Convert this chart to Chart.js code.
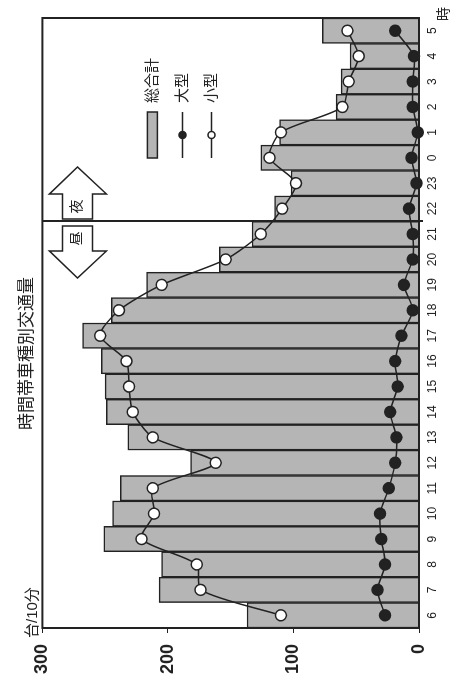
<!DOCTYPE html>
<html>
<head>
<meta charset="utf-8">
<title>時間帯車種別交通量</title>
<script src="https://cdn.jsdelivr.net/npm/chart.js@4.4.1/dist/chart.umd.min.js"></script>
<style>
    html, body { margin: 0; padding: 0; background: #fff; overflow: hidden; }
    /* el gráfico original está girado 90° a la izquierda */
    #wrap {
        position: absolute; left: 0; top: 0;
        width: 689px; height: 452px;
        transform-origin: 0 0;
        transform: translate(0, 689px) rotate(-90deg);
    }
</style>
</head>
<body>
<div id="wrap"><canvas id="chart" width="689" height="452"></canvas></div>
<script>
// Datos
var hours = ['6', '7', '8', '9', '10', '11', '12', '13', '14', '15', '16', '17',
             '18', '19', '20', '21', '22', '23', '0', '1', '2', '3', '4', '5'];
var totalCount = [137, 207, 205, 251, 244, 238, 182, 232, 249, 250, 253, 268,
                  245, 217, 159, 133, 115, 102, 126, 111, 66, 62, 55, 77];
var largeCount = [27, 33, 27, 30, 31, 24, 19, 18, 23, 17, 19, 14,
                  5, 12, 5, 5, 8, 2, 6, 1, 5, 5, 4, 19];
var smallCount = [110, 174, 177, 221, 211, 212, 162, 212, 228, 231, 233, 254,
                  239, 205, 154, 126, 109, 98, 119, 110, 61, 56, 48, 57];
var seriesNames = ['総合計', '大型', '小型'];
var valueTicks = [0, 100, 200, 300];
var chartTitle = '時間帯車種別交通量';
var valueUnit = '台/10分';
var hourUnit = '時';
var dayLabel = '昼';
var nightLabel = '夜';
var nightStart = '22';

var FONT = "'Liberation Sans', 'Noto Sans CJK JP', sans-serif";
var INK = '#222';
var BAR_FILL = '#b5b5b5';

// Flecha con texto (dir = 1 hacia la derecha, -1 hacia la izquierda)
function drawArrow(ctx, base, dir, top, label) {
    var shaftEnd = base + dir * 25;
    var tip = base + dir * 52;
    var s1 = top + 20, s2 = top + 50, h1 = top + 7, h2 = top + 64, mid = top + 35;
    ctx.beginPath();
    ctx.moveTo(base, s1);
    ctx.lineTo(shaftEnd, s1);
    ctx.lineTo(shaftEnd, h1);
    ctx.lineTo(tip, mid);
    ctx.lineTo(shaftEnd, h2);
    ctx.lineTo(shaftEnd, s2);
    ctx.lineTo(base, s2);
    ctx.closePath();
    ctx.fillStyle = '#fff';
    ctx.fill();
    ctx.stroke();
    ctx.fillStyle = INK;
    ctx.font = '14px ' + FONT;
    ctx.textAlign = 'center';
    ctx.textBaseline = 'middle';
    ctx.fillText(label, (base + shaftEnd) / 2, mid);
}

var decor = {
    id: 'decor',
    afterDraw: function (chart) {
        var ctx = chart.ctx;
        var a = chart.chartArea;
        var x = chart.scales.x;
        ctx.save();
        ctx.strokeStyle = INK;

        // marco
        ctx.lineWidth = 2;
        ctx.strokeRect(a.left, a.top, a.right - a.left, a.bottom - a.top);

        // separación día / noche
        var i = hours.indexOf(nightStart);
        var dx = Math.round((x.getPixelForValue(i - 1) + x.getPixelForValue(i)) / 2);
        ctx.beginPath();
        ctx.moveTo(dx, a.top);
        ctx.lineTo(dx, a.bottom + 4);
        ctx.stroke();

        ctx.lineWidth = 1.5;
        drawArrow(ctx, dx + 2, 1, a.top, nightLabel);
        drawArrow(ctx, dx - 5, -1, a.top, dayLabel);

        // leyenda
        var lx0 = a.right - 140, lx1 = a.right - 94, tx = a.right - 85;
        var rows = [a.top + 110, a.top + 140, a.top + 169];
        ctx.fillStyle = BAR_FILL;
        ctx.fillRect(lx0, rows[0] - 5, lx1 - lx0, 10);
        ctx.strokeRect(lx0, rows[0] - 5, lx1 - lx0, 10);
        [1, 2].forEach(function (k) {
            ctx.beginPath();
            ctx.moveTo(lx0, rows[k]);
            ctx.lineTo(lx1, rows[k]);
            ctx.stroke();
            ctx.beginPath();
            ctx.arc((lx0 + lx1) / 2, rows[k], 3.5, 0, Math.PI * 2);
            ctx.fillStyle = k === 1 ? INK : '#fff';
            ctx.fill();
            ctx.stroke();
        });
        ctx.fillStyle = INK;
        ctx.font = '15px ' + FONT;
        ctx.textAlign = 'left';
        ctx.textBaseline = 'middle';
        seriesNames.forEach(function (n, k) {
            ctx.fillText(n, tx, rows[k]);
        });

        // unidades
        ctx.font = '15px ' + FONT;
        ctx.fillText(valueUnit, a.left - 10, a.top - 10);
        ctx.font = '14px ' + FONT;
        ctx.textAlign = 'center';
        ctx.fillText(hourUnit, a.right + 4, a.bottom + 25);
        ctx.restore();
    }
};

new Chart(document.getElementById('chart'), {
    type: 'bar',
    data: {
        labels: hours,
        datasets: [
            {
                type: 'line', label: seriesNames[1], data: largeCount,
                borderColor: INK, borderWidth: 1.5, tension: 0.25,
                pointRadius: 5.5, pointBackgroundColor: INK, pointBorderColor: INK, pointBorderWidth: 1.5,
                clip: false, order: 1
            },
            {
                type: 'line', label: seriesNames[2], data: smallCount,
                borderColor: INK, borderWidth: 1.5, tension: 0.25,
                pointRadius: 5.5, pointBackgroundColor: '#fff', pointBorderColor: INK, pointBorderWidth: 1.5,
                clip: false, order: 2
            },
            {
                type: 'bar', label: seriesNames[0], data: totalCount,
                backgroundColor: BAR_FILL, borderColor: INK, borderWidth: 1.5,
                barPercentage: 1, categoryPercentage: 1, order: 3
            }
        ]
    },
    options: {
        responsive: false,
        animation: false,
        devicePixelRatio: 1,
        layout: { padding: { left: 0, right: 18, top: 0, bottom: 0 } },
        plugins: {
            legend: { display: false },
            tooltip: { enabled: false },
            title: {
                display: true, text: chartTitle, color: INK,
                font: { family: FONT, size: 17, weight: 'normal' },
                padding: { top: 17, bottom: 5 }
            }
        },
        scales: {
            x: {
                grid: { display: false },
                border: { display: false },
                ticks: { color: INK, font: { family: FONT, size: 12 }, padding: -2, maxRotation: 0, autoSkip: false },
                afterFit: function (s) { s.height = 33; }
            },
            y: {
                min: 0, max: 300,
                grid: { drawOnChartArea: false, tickLength: 5, color: INK },
                border: { display: false },
                ticks: { color: INK, padding: 11, font: { family: FONT, size: 18, weight: 'bold' } },
                afterBuildTicks: function (s) {
                    s.ticks = valueTicks.map(function (v) { return { value: v }; });
                },
                afterFit: function (s) { s.width = 61; }
            }
        }
    },
    plugins: [decor]
});
</script>
</body>
</html>
